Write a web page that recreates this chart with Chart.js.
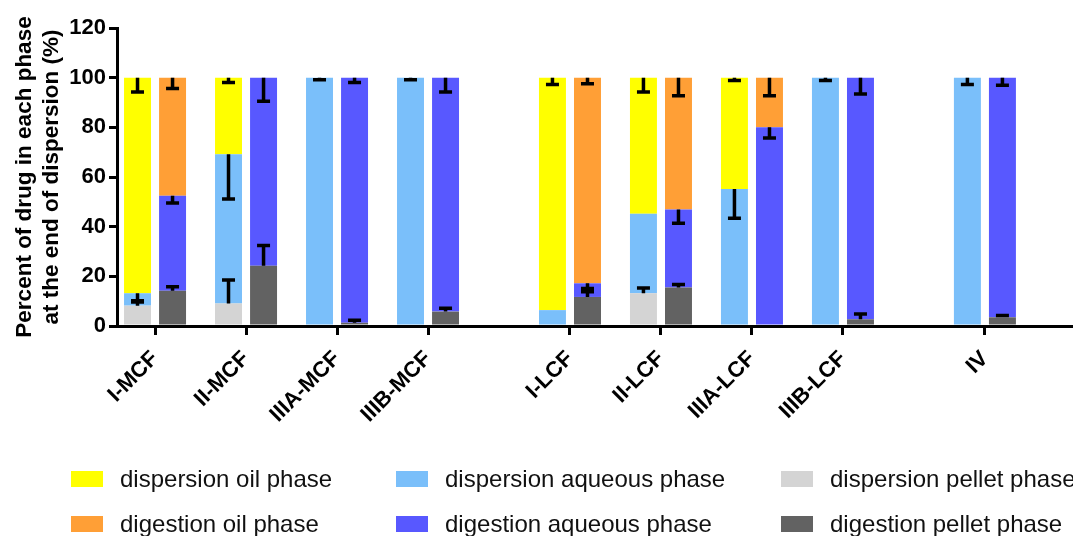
<!DOCTYPE html>
<html>
<head>
<meta charset="utf-8">
<script src="https://cdn.jsdelivr.net/npm/chart.js@4.4.1/dist/chart.umd.min.js"></script>
<style>
  html, body { margin: 0; padding: 0; background: #fff; }
  #wrap { width: 1073px; height: 536px; position: relative; }
</style>
</head>
<body>
<div id="wrap"><canvas id="myChart" width="1073" height="536"></canvas></div>
<script>
// formulations (x axis)
const categories = ['I-MCF', 'II-MCF', 'IIIA-MCF', 'IIIB-MCF', 'I-LCF', 'II-LCF', 'IIIA-LCF', 'IIIB-LCF', 'IV'];
const groupSizes = [4, 4, 1];

// percent of drug in each phase (mean)
const dispPellet  = [8.2, 9.1, 0, 0, 0, 13.2, 0, 0, 0];
const dispAqueous = [5.0, 60.1, 100, 100, 6.4, 32.0, 55.2, 100, 100];
const dispOil     = [86.8, 30.8, 0, 0, 93.6, 54.8, 44.8, 0, 0];
const digPellet   = [14.2, 24.3, 1.3, 5.8, 11.7, 15.5, 0, 2.7, 3.5];
const digAqueous  = [38.2, 75.7, 98.7, 94.2, 5.5, 31.4, 80.0, 97.3, 96.5];
const digOil      = [47.6, 0, 0, 0, 82.8, 53.1, 20.0, 0, 0];

// error (SD)
const dispPelletErr  = [1.5, 9.4, 0, 0, 0, 2.1, 0, 0, 0];
const dispAqueousErr = [3.0, 18.1, 0.8, 0.8, 0, 0, 11.8, 1.1, 2.8];
const dispOilErr     = [5.8, 1.9, 0, 0, 2.8, 5.8, 1.1, 0, 0];
const digPelletErr   = [1.6, 8.1, 1.0, 1.3, 3.4, 1.2, 0, 2.1, 0.7];
const digAqueousErr  = [2.9, 9.5, 1.9, 5.8, 3.4, 5.5, 4.3, 6.6, 3.1];
const digOilErr      = [4.4, 0, 0, 0, 2.4, 7.3, 7.3, 0, 0];

const yTicks = [0, 20, 40, 60, 80, 100, 120];

// x positions: one unit per formulation, extra space between groups
const groupGap = 0.56;
const xPos = [];
let n = 0;
groupSizes.forEach(function(size, g) {
  for (let k = 0; k < size; k++) {
    xPos.push(n + g * groupGap);
    n++;
  }
});

function toPoints(arr) {
  return arr.map(function(v, i) { return { x: xPos[i], y: v }; });
}

function makeSet(label, data, err, color, stack, dir) {
  return {
    label: label,
    data: toPoints(data),
    errors: err,
    errorDir: dir,
    backgroundColor: color,
    borderWidth: 0,
    stack: stack
  };
}

const datasets = [
  makeSet('dispersion pellet phase', dispPellet, dispPelletErr, '#d4d4d4', 'disp', 'up'),
  makeSet('dispersion aqueous phase', dispAqueous, dispAqueousErr, '#7abffa', 'disp', 'down'),
  makeSet('dispersion oil phase', dispOil, dispOilErr, '#ffff00', 'disp', 'down'),
  makeSet('digestion pellet phase', digPellet, digPelletErr, '#626262', 'dig', 'up'),
  makeSet('digestion aqueous phase', digAqueous, digAqueousErr, '#5858ff', 'dig', 'down'),
  makeSet('digestion oil phase', digOil, digOilErr, '#ff9f36', 'dig', 'down')
];

// error bars drawn from the top of each segment
const errorBars = {
  id: 'errorBars',
  afterDatasetsDraw(chart) {
    const ctx = chart.ctx;
    const yScale = chart.scales.y;
    ctx.save();
    ctx.strokeStyle = '#000';
    ctx.lineWidth = 3.5;
    chart.data.datasets.forEach(function(ds, i) {
      const meta = chart.getDatasetMeta(i);
      meta.data.forEach(function(bar, j) {
        const err = ds.errors[j];
        if (!err || ds.data[j].y <= 0) return;
        const top = yScale.getValueForPixel(bar.y);
        const end = ds.errorDir === 'up' ? top + err : top - err;
        const endPx = yScale.getPixelForValue(end);
        ctx.beginPath();
        ctx.moveTo(bar.x, bar.y);
        ctx.lineTo(bar.x, endPx);
        ctx.moveTo(bar.x - 6.5, endPx);
        ctx.lineTo(bar.x + 6.5, endPx);
        ctx.stroke();
      });
    });
    ctx.restore();
  }
};

// legend in three columns, two rows
const legendOrder = [2, 1, 0, 5, 4, 3];
const gridLegend = {
  id: 'gridLegend',
  afterDraw(chart) {
    const ctx = chart.ctx;
    const colBox = [71, 396, 781];
    const colText = [120, 445, 830];
    const rows = [479, 524];
    ctx.save();
    ctx.font = '24px "Liberation Sans", Arial, sans-serif';
    ctx.textBaseline = 'middle';
    legendOrder.forEach(function(di, k) {
      const ds = chart.data.datasets[di];
      const c = k % 3, r = Math.floor(k / 3);
      ctx.fillStyle = ds.backgroundColor;
      ctx.fillRect(colBox[c], rows[r] - 8, 32, 16);
      ctx.fillStyle = '#111';
      ctx.fillText(ds.label, colText[c], rows[r] + 1);
    });
    ctx.restore();
  }
};

const boldFont = { family: '"Liberation Sans", Arial, sans-serif', size: 22, weight: 'bold' };

var ctx = document.getElementById('myChart').getContext('2d');
var myChart = new Chart(ctx, {
  type: 'bar',
  data: { datasets: datasets },
  options: {
    responsive: false,
    animation: false,
    devicePixelRatio: 1,
    layout: { padding: { top: 28, right: 0, left: 0, bottom: 0 } },
    categoryPercentage: 0.77,
    barPercentage: 0.77,
    plugins: {
      legend: { display: false },
      tooltip: { enabled: false }
    },
    scales: {
      x: {
        type: 'linear',
        min: -0.418,
        max: 10.088,
        offset: false,
        afterBuildTicks: function(scale) {
          scale.ticks = xPos.map(function(v) { return { value: v }; });
        },
        afterFit: function(scale) { scale.height = 210; },
        ticks: {
          autoSkip: false,
          minRotation: 45,
          maxRotation: 45,
          padding: 11,
          color: '#000',
          font: boldFont,
          callback: function(value, index) { return categories[index]; }
        },
        grid: {
          offset: false,
          drawOnChartArea: false,
          drawTicks: true,
          tickLength: 9,
          color: '#000',
          lineWidth: 3
        },
        border: { display: true, color: '#000', width: 3 }
      },
      y: {
        stacked: true,
        min: 0,
        max: 120,
        afterBuildTicks: function(scale) {
          scale.ticks = yTicks.map(function(v) { return { value: v }; });
        },
        afterFit: function(scale) { scale.width = 117; },
        ticks: {
          padding: 3,
          color: '#000',
          font: boldFont
        },
        grid: {
          drawOnChartArea: false,
          drawTicks: true,
          tickLength: 8,
          color: '#000',
          lineWidth: 3
        },
        border: { display: true, color: '#000', width: 3 },
        title: {
          display: true,
          text: ['Percent of drug in each phase', 'at the end of dispersion (%)'],
          color: '#000',
          font: { family: '"Liberation Sans", Arial, sans-serif', size: 22.5, weight: 'bold', lineHeight: 1.2 },
          padding: { top: 11, bottom: 0 }
        }
      }
    }
  },
  plugins: [errorBars, gridLegend]
});
</script>
</body>
</html>
